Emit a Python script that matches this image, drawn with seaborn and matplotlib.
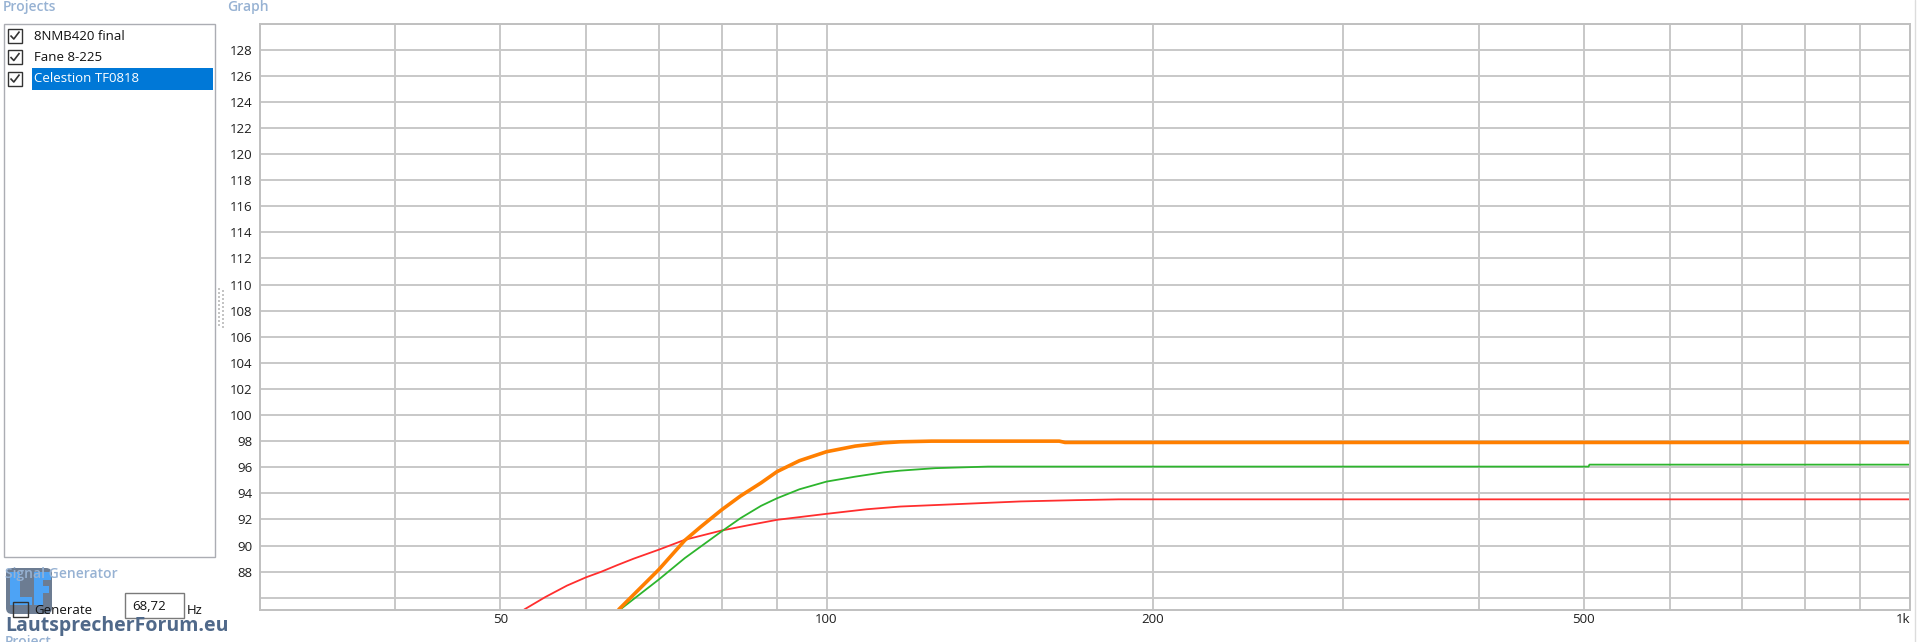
import numpy as np
import pandas as pd
import matplotlib
matplotlib.use("Agg")
import matplotlib.pyplot as plt
import seaborn as sns
from matplotlib.patches import Rectangle, FancyBboxPatch
from matplotlib.ticker import NullFormatter

# ---------------- data ----------------
project_names = ["8NMB420 final", "Fane 8-225", "Celestion TF0818"]

red_freq = [52.6, 55.0, 57.6, 60.0, 61.9, 64.1, 66.4, 70.0, 74.0, 80.0, 85.1, 90.0, 100.0,
            108.9, 117.0, 130.0, 151.0, 170.0, 186.0, 1000.0]
red_db = [85.1, 86.05, 86.93, 87.57, 87.98, 88.5, 89.0, 89.68, 90.44, 91.15, 91.59, 91.97, 92.43,
          92.78, 92.99, 93.15, 93.38, 93.48, 93.54, 93.54]

green_freq = [64.5, 70.0, 74.0, 80.0, 83.3, 87.0, 90.0, 94.4, 100.0, 106.3, 112.9, 117.0,
              126.0, 141.0, 505.0, 506.0, 1000.0]
green_db = [85.1, 87.39, 89.04, 91.08, 92.1, 93.04, 93.62, 94.31, 94.9, 95.28, 95.61, 95.74,
            95.93, 96.05, 96.05, 96.2, 96.2]

orange_freq = [64.3, 70.0, 74.0, 76.5, 80.0, 83.3, 87.0, 90.0, 94.4, 100.0, 106.3, 112.9,
               117.0, 125.0, 164.0, 166.0, 1000.0]
orange_db = [85.1, 88.15, 90.4, 91.42, 92.73, 93.8, 94.8, 95.66, 96.5, 97.19, 97.62, 97.87,
             97.95, 98.0, 98.0, 97.9, 97.9]

x_major = [50, 100, 200, 500, 1000]
x_major_labels = ["50", "100", "200", "500", "1k"]
x_minor = [40, 60, 70, 80, 90, 300, 400, 600, 700, 800, 900]
y_ticks = list(range(86, 131, 2))

# ---------------- figure ----------------
sns.set_theme(style="white")
plt.rcParams["font.family"] = ["Open Sans", "DejaVu Sans"]

W, H = 1917, 642
fig = plt.figure(figsize=(W / 100, H / 100), dpi=100)
fig.patch.set_facecolor("white")

# UI overlay in pixel coordinates
ui = fig.add_axes([0, 0, 1, 1])
ui.set_xlim(0, W)
ui.set_ylim(H, 0)
ui.axis("off")

label_blue = "#97B2D3"
ui.text(3, 7, "Projects", color=label_blue, fontsize=10, fontweight="semibold", va="center", ha="left")
ui.text(227, 7, "Graph", color=label_blue, fontsize=10, fontweight="semibold", va="center", ha="left")

# project list box
ui.add_patch(Rectangle((3.5, 23.5), 211.5, 533.5, facecolor="white", edgecolor="#ABADB3", lw=1))
ui.add_patch(Rectangle((32, 68), 181, 22, facecolor="#0078D7", edgecolor="none"))
for i, name in enumerate(project_names):
    cy = 35.5 + i * 21.5
    ui.add_patch(Rectangle((8, cy - 7), 14, 14, facecolor="white", edgecolor="#333333", lw=1))
    ui.plot([10.5, 13.8, 19.5], [cy, cy + 3.5, cy - 4], color="#333333", lw=1.2, solid_capstyle="butt")
    ui.text(34, cy + 0.5, name, fontsize=9.5, va="center", ha="left",
            color="white" if i == 2 else "#111111")

# splitter grip
gy = np.arange(289, 327, 4)
ui.scatter(np.r_[np.full(len(gy), 219.0), np.full(len(gy), 223.0)], np.r_[gy, gy + 2],
           marker="s", s=1.6, color="#c4c4c4", linewidths=0)

# right window edge
ui.plot([1915, 1915], [0, H], color="#dcdcdc", lw=1)

# signal generator section
ui.text(5, 574, "Signal Generator", color=label_blue, fontsize=10, fontweight="semibold", va="center", ha="left")
ui.add_patch(FancyBboxPatch((6, 568), 46, 46, boxstyle="round,pad=0,rounding_size=6",
                            facecolor="#52657F", edgecolor="none", alpha=0.85))
lf_blue = "#4DA3F5"
ui.add_patch(Rectangle((10, 572), 10, 33, facecolor=lf_blue, edgecolor="none"))
ui.add_patch(Rectangle((10, 597), 22, 8, facecolor=lf_blue, edgecolor="none"))
ui.add_patch(Rectangle((34, 572), 9, 33, facecolor=lf_blue, edgecolor="none"))
ui.add_patch(Rectangle((34, 572), 17, 8, facecolor=lf_blue, edgecolor="none"))
ui.add_patch(Rectangle((34, 586), 15, 7, facecolor=lf_blue, edgecolor="none"))

ui.add_patch(Rectangle((13, 602), 15, 15, facecolor="none", edgecolor="#333333", lw=1))
ui.text(34, 610, "Generate", fontsize=9.5, va="center", ha="left", color="#111111")
ui.add_patch(Rectangle((125, 593), 59, 25, facecolor="white", edgecolor="#7a7a7a", lw=1))
ui.text(132, 606, "68,72", fontsize=9.5, va="center", ha="left", color="#111111")
ui.text(187, 611, "Hz", fontsize=9.5, va="center", ha="left", color="#111111")
ui.text(5, 626, "LautsprecherForum.eu", fontsize=14, fontweight="bold", va="center", ha="left",
        color="#50698A")
ui.text(5, 635, "Project", color=label_blue, fontsize=10, fontweight="semibold", va="top", ha="left")

# ---------------- graph ----------------
ax = fig.add_axes([260 / W, (H - 609.5) / H, 1650 / W, 586 / H])
ax.set_facecolor("white")

series = [
    (red_freq, red_db, "#FF2E2E", 1.3),
    (green_freq, green_db, "#2DB52D", 1.3),
    (orange_freq, orange_db, "#FF7F00", 2.6),
]
for name, (fr, db, col, lw) in zip(project_names, series):
    df = pd.DataFrame({"Frequency": fr, "SPL": db})
    sns.lineplot(data=df, x="Frequency", y="SPL", ax=ax, color=col, linewidth=lw,
                 estimator=None, sort=False, label=name)

ax.set_xscale("log")
ax.set_xlim(30, 1000)
ax.set_ylim(85.1, 130)
ax.set_xticks(x_major)
ax.set_xticklabels(x_major_labels)
ax.set_xticks(x_minor, minor=True)
ax.xaxis.set_minor_formatter(NullFormatter())
ax.set_yticks(y_ticks)
ax.set_yticklabels(["" if v in (86, 130) else str(v) for v in y_ticks])
ax.grid(True, which="both", axis="x", color="#c8c8c8", lw=1.4)
ax.grid(True, which="major", axis="y", color="#c8c8c8", lw=1.4)
ax.tick_params(axis="both", which="both", length=0, labelsize=9.5, colors="#1e1e1e")
ax.tick_params(axis="y", pad=5.5)
ax.tick_params(axis="x", pad=2.5)
ax.get_xticklabels()[-1].set_ha("right")
ax.set_xlabel("")
ax.set_ylabel("")
if ax.get_legend() is not None:
    ax.get_legend().remove()
for s in ax.spines.values():
    s.set_color("#c0c0c0")
    s.set_linewidth(1.4)

fig.savefig("out.png", dpi=100)
